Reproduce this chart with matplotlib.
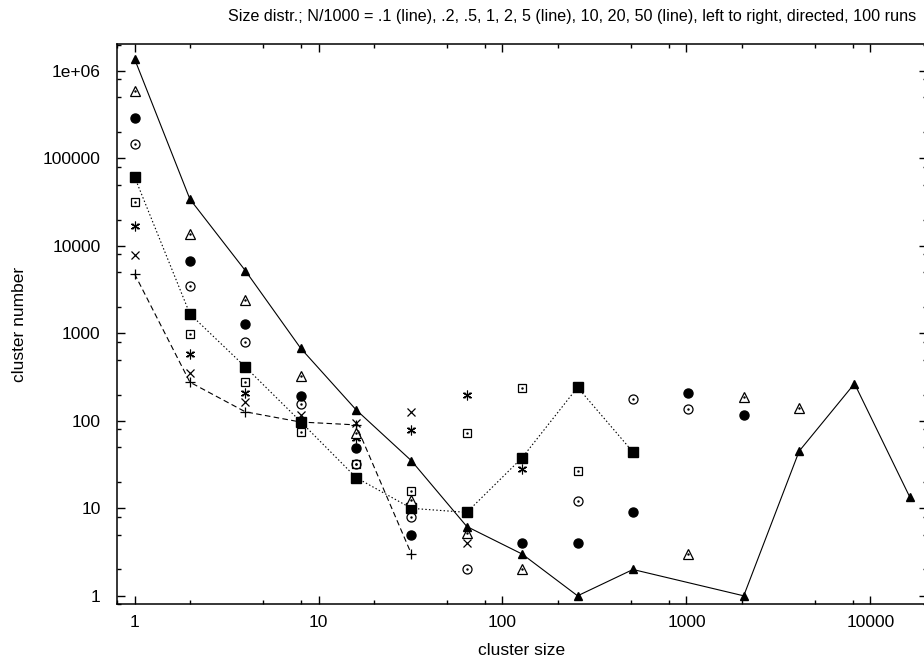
import matplotlib
matplotlib.use("Agg")
import matplotlib.pyplot as plt
from matplotlib.ticker import LogLocator, FixedLocator, FixedFormatter, NullFormatter

plt.rcParams['font.family'] = ['Liberation Sans', 'DejaVu Sans']

# N/1000 = .1 (line)  -> plus
x_plus = [1, 2, 4, 8, 16, 32]
y_plus = [4800, 277, 127, 97, 90, 3]
# N/1000 = .2 -> cross
x_cross = [1, 2, 4, 8, 16, 32, 64]
y_cross = [7900, 351, 166, 117, 95, 127, 4]
# N/1000 = .5 -> star
x_star = [1, 2, 4, 8, 16, 32, 64, 128]
y_star = [16700, 587, 207, 100, 64, 79, 198, 28]
# N/1000 = 1 -> open square
x_osq = [1, 2, 4, 8, 16, 32, 64, 128, 256]
y_osq = [32200, 986, 277, 75, 32, 16, 72, 236, 27]
# N/1000 = 2 (line) -> filled square
x_fsq = [1, 2, 4, 8, 16, 32, 64, 128, 256, 512]
y_fsq = [61700, 1670, 414, 98, 22.5, 10, 9, 38, 242, 44]
# N/1000 = 5 -> open circle
x_ocirc = [1, 2, 4, 8, 16, 32, 64, 256, 512, 1024]
y_ocirc = [148000, 3520, 800, 156, 32, 8, 2, 12, 177, 136]
# N/1000 = 10 -> filled circle
x_fcirc = [1, 2, 4, 8, 16, 32, 128, 256, 512, 1024, 2048]
y_fcirc = [292000, 6760, 1280, 194, 49, 5, 4, 4, 9, 207, 118]
# N/1000 = 20 -> open triangle
x_otri = [1, 2, 4, 8, 16, 32, 64, 128, 1024, 2048, 4096]
y_otri = [585000, 13700, 2420, 329, 72, 12.4, 5.2, 2, 3, 189, 142]
# N/1000 = 50 (line) -> filled triangle
x_ftri = [1, 2, 4, 8, 16, 32, 64, 128, 256, 512, 2048, 4096, 8192, 16384]
y_ftri = [1380000, 34300, 5230, 677, 134, 35, 6.2, 3, 1, 2, 1, 45, 267, 13.4]

x_ticks = [1, 10, 100, 1000, 10000]
x_ticklabels = ["1", "10", "100", "1000", "10000"]
y_ticks = [1, 10, 100, 1000, 10000, 100000, 1000000]
y_ticklabels = ["1", "10", "100", "1000", "10000", "100000", "1e+06"]

title = "Size distr.; N/1000 = .1 (line), .2, .5, 1, 2, 5 (line), 10, 20, 50 (line), left to right, directed, 100 runs"

W, H = 924, 666
fig = plt.figure(figsize=(W / 100, H / 100), dpi=100)
left, right, top, bottom = 116.7, 927.0, 44.3, 604.3
ax = fig.add_axes([left / W, 1 - bottom / H, (right - left) / W, (bottom - top) / H])
ax.set_xscale('log')
ax.set_yscale('log')
ax.set_xlim(0.8, 20300)
ax.set_ylim(0.8, 2.02e6)

lw = 0.8
k = 'black'
# plus with dashed line
ax.plot(x_plus, y_plus, color=k, lw=lw, dashes=(5, 3), marker='+', ms=7, mew=0.9, zorder=3)
ax.plot(x_cross, y_cross, ls='none', color=k, marker='x', ms=6, mew=0.9, zorder=3)
ax.plot(x_star, y_star, ls='none', color=k, marker=(6, 2, 0), ms=7, mew=0.8, zorder=3)
ax.plot(x_star, y_star, ls='none', color=k, marker='x', ms=5, mew=0.8, zorder=3)
ax.plot(x_osq, y_osq, ls='none', marker='s', ms=6, mfc='white', mec=k, mew=0.9, zorder=3)
ax.plot(x_osq, y_osq, ls='none', marker='.', ms=1.5, color=k, zorder=3)
ax.plot(x_fsq, y_fsq, color=k, lw=lw, dashes=(1.3, 2.0), marker='s', ms=6.5, mfc=k, mec=k, zorder=3)
ax.plot(x_ocirc, y_ocirc, ls='none', marker='o', ms=6.5, mfc='none', mec=k, mew=0.9, zorder=3)
ax.plot(x_ocirc, y_ocirc, ls='none', marker='.', ms=1.5, color=k, zorder=3)
ax.plot(x_fcirc, y_fcirc, ls='none', marker='o', ms=6.5, mfc=k, mec=k, zorder=3)
ax.plot(x_otri, y_otri, ls='none', marker='^', ms=6.5, mfc='white', mec=k, mew=0.9, zorder=3)
ax.plot(x_otri, y_otri, ls='none', marker='.', ms=1.5, color=k, zorder=3)
ax.plot(x_ftri, y_ftri, color=k, lw=lw, marker='^', ms=6, mfc=k, mec=k, zorder=3)

ax.xaxis.set_major_locator(FixedLocator(x_ticks))
ax.xaxis.set_major_formatter(FixedFormatter(x_ticklabels))
ax.yaxis.set_major_locator(FixedLocator(y_ticks))
ax.yaxis.set_major_formatter(FixedFormatter(y_ticklabels))
ax.xaxis.set_minor_locator(LogLocator(base=10, subs=[2, 5, 8], numticks=20))
ax.yaxis.set_minor_locator(LogLocator(base=10, subs=[2, 5, 8], numticks=20))
ax.xaxis.set_minor_formatter(NullFormatter())
ax.yaxis.set_minor_formatter(NullFormatter())

ax.tick_params(which='both', direction='in', top=True, right=True, color=k, width=1.0, labelsize=12.5)
ax.tick_params(which='major', length=5.8)
ax.tick_params(which='minor', length=2.9)
ax.tick_params(axis='x', which='major', pad=8)
ax.tick_params(axis='y', which='major', pad=11.5)
for s in ax.spines.values():
    s.set_linewidth(1.1)

ax.set_xlabel("cluster size", fontsize=12.5, labelpad=9)
ax.set_ylabel("cluster number", fontsize=12.5, labelpad=11.5)
fig.text(916 / W, 1 - 17 / H, title, ha='right', va='center', fontsize=11.6)

fig.savefig("out.png", dpi=100)
